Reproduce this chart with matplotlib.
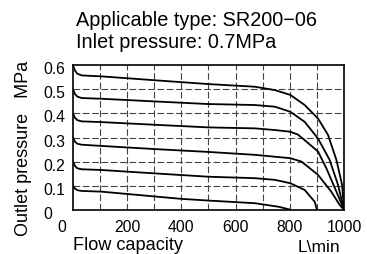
"""Outlet pressure vs flow capacity curves for SR200-06 regulator"""
import matplotlib
matplotlib.use("Agg")
import matplotlib.pyplot as plt
import matplotlib.transforms as mtransforms

plt.rcParams['font.family'] = ['Liberation Sans', 'DejaVu Sans']

# Flow (L/min) and outlet pressure (MPa), one pair per set pressure
flow_06 = [0, 7, 16, 32, 105, 300, 500, 671, 745, 802, 855, 904, 941, 972, 993, 1000]
pres_06 = [0.600, 0.579, 0.565, 0.558, 0.554, 0.538, 0.522, 0.511, 0.497, 0.477, 0.435, 0.379, 0.311, 0.207, 0.103, 0.0]

flow_05 = [0, 7, 16, 32, 105, 300, 500, 671, 745, 802, 855, 904, 947, 978, 1000]
pres_05 = [0.500, 0.481, 0.470, 0.464, 0.461, 0.450, 0.439, 0.435, 0.428, 0.407, 0.365, 0.296, 0.207, 0.103, 0.0]

flow_04 = [0, 7, 16, 32, 105, 300, 500, 671, 745, 802, 830, 855, 904, 935, 972, 1000]
pres_04 = [0.400, 0.382, 0.372, 0.367, 0.364, 0.353, 0.342, 0.338, 0.331, 0.324, 0.312, 0.289, 0.242, 0.172, 0.075, 0.0]

flow_03 = [0, 7, 16, 32, 105, 300, 500, 671, 802, 843, 904, 953, 984, 1000]
pres_03 = [0.300, 0.283, 0.274, 0.270, 0.265, 0.252, 0.240, 0.228, 0.214, 0.200, 0.145, 0.075, 0.020, 0.0]

flow_02 = [0, 7, 16, 32, 105, 300, 500, 671, 745, 802, 855, 892, 900]
pres_02 = [0.200, 0.182, 0.172, 0.168, 0.165, 0.151, 0.137, 0.131, 0.124, 0.110, 0.082, 0.033, 0.0]

flow_01 = [0, 7, 16, 32, 105, 400, 500, 671, 760, 802]
pres_01 = [0.100, 0.088, 0.081, 0.078, 0.075, 0.045, 0.038, 0.027, 0.012, 0.0]

curves = [(flow_06, pres_06), (flow_05, pres_05), (flow_04, pres_04),
          (flow_03, pres_03), (flow_02, pres_02), (flow_01, pres_01)]

x_ticks = [0, 200, 400, 600, 800, 1000]
x_grid = [100, 200, 300, 400, 500, 600, 700, 800, 900]
y_ticks = [0, 0.1, 0.2, 0.3, 0.4, 0.5, 0.6]
y_tick_labels = ['0', '0.1', '0.2', '0.3', '0.4', '0.5', '0.6']

fig = plt.figure(figsize=(3.67, 2.54), dpi=100)
ax = fig.add_axes([0.1989, 0.1744, 0.9373 - 0.1989, 0.7429 - 0.1744])

# dashed grid first so the curves sit on top
for gx in x_grid:
    ax.axvline(gx, color='#444444', lw=0.8, linestyle=(0, (6, 2.4)), zorder=1)
for gy in y_ticks[1:-1]:
    ax.axhline(gy, color='#444444', lw=0.8, linestyle=(0, (6, 2.4)), zorder=1)

for fx, py in curves:
    ax.plot(fx, py, color='black', lw=1.3, zorder=3, solid_joinstyle='round')

ax.set_xlim(0, 1000)
ax.set_ylim(0, 0.6)
for sp in ax.spines.values():
    sp.set_linewidth(1.2)
    sp.set_zorder(4)

ax.set_xticks(x_ticks)
ax.set_xticklabels([str(t) for t in x_ticks])
ax.set_yticks(y_ticks)
ax.set_yticklabels(y_tick_labels)
ax.tick_params(axis='x', length=0, pad=7.4, labelsize=11.3)
ax.tick_params(axis='y', length=0, pad=21.6, labelsize=11.3)

# y labels are left aligned and sit a little low in the original
shift_down = mtransforms.ScaledTranslation(0, -3 / 100, fig.dpi_scale_trans)
for lab in ax.get_yticklabels():
    lab.set_horizontalalignment('left')
    lab.set_transform(lab.get_transform() + shift_down)

# the "0" under the x-axis sits left of the origin
first = ax.get_xticklabels()[0]
first.set_transform(first.get_transform() +
                    mtransforms.ScaledTranslation(-11 / 100, 0, fig.dpi_scale_trans))

fig.text(0.207, 1 - 26 / 254, 'Applicable type: SR200\u221206', fontsize=14.3,
         ha='left', va='baseline')
fig.text(0.207, 1 - 48 / 254, 'Inlet pressure: 0.7MPa', fontsize=14.3,
         ha='left', va='baseline')

fig.text(0.198, 1 - 246 / 254, 'Flow capacity', fontsize=13.1, ha='left', va='center')
fig.text(0.812, 1 - 247.5 / 254, 'L\\min', fontsize=12.5, ha='left', va='center')
fig.text(0.063, 1 - 148 / 254, 'Outlet pressure   MPa', fontsize=13,
         rotation=90, ha='center', va='center')

fig.savefig('out.png', dpi=100)
